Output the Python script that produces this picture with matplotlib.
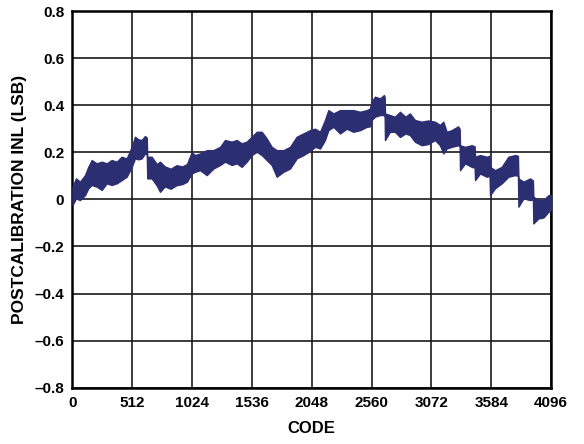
import matplotlib
matplotlib.use("Agg")
import matplotlib.pyplot as plt

plt.rcParams['font.family'] = ['Liberation Sans', 'DejaVu Sans']
plt.rcParams['font.weight'] = 'bold'

# INL envelope (code, upper, lower)
codes = [0, 30, 64, 107, 135, 164, 207, 250, 293, 335, 378, 421, 464, 507,
         535, 563, 592, 620, 636, 640, 678, 720, 749, 790, 840, 890, 940, 980,
         1020, 1049, 1091, 1149, 1206, 1263, 1305, 1363, 1406, 1448, 1491,
         1534, 1577, 1620, 1662, 1705, 1748, 1805, 1862, 1919, 1976, 2033,
         2076, 2119, 2161, 2190, 2233, 2290, 2347, 2404, 2461, 2518, 2545,
         2560, 2589, 2632, 2666, 2672, 2675, 2717, 2760, 2803, 2850, 2888,
         2931, 2988, 3045, 3102, 3145, 3174, 3203, 3246, 3300, 3314, 3317,
         3360, 3417, 3442, 3446, 3488, 3546, 3570, 3574, 3617, 3674, 3731,
         3788, 3813, 3817, 3860, 3917, 3941, 3945, 3988, 4031, 4074, 4096]
inl_upper = [0.054, 0.089, 0.075, 0.103, 0.138, 0.167, 0.153, 0.160, 0.153,
             0.167, 0.160, 0.181, 0.174, 0.223, 0.266, 0.255, 0.252, 0.269,
             0.262, 0.181, 0.181, 0.150, 0.160, 0.140, 0.130, 0.145, 0.140,
             0.150, 0.200, 0.188, 0.195, 0.209, 0.209, 0.223, 0.252, 0.245,
             0.252, 0.238, 0.245, 0.266, 0.287, 0.287, 0.259, 0.223, 0.209,
             0.209, 0.223, 0.266, 0.280, 0.294, 0.300, 0.287, 0.337, 0.379,
             0.365, 0.379, 0.379, 0.379, 0.372, 0.379, 0.385, 0.415, 0.436,
             0.429, 0.443, 0.435, 0.365, 0.358, 0.351, 0.372, 0.351, 0.365,
             0.337, 0.330, 0.335, 0.330, 0.316, 0.330, 0.287, 0.294, 0.310,
             0.300, 0.230, 0.223, 0.230, 0.225, 0.181, 0.188, 0.181, 0.185,
             0.138, 0.124, 0.138, 0.181, 0.188, 0.185, 0.089, 0.075, 0.089,
             0.080, 0.011, -0.003, -0.003, 0.018, 0.018]
inl_lower = [-0.024, 0.004, -0.003, 0.018, 0.047, 0.061, 0.054, 0.040, 0.068,
             0.061, 0.068, 0.082, 0.096, 0.138, 0.174, 0.170, 0.174, 0.195,
             0.190, 0.089, 0.089, 0.060, 0.032, 0.055, 0.045, 0.060, 0.065,
             0.075, 0.110, 0.117, 0.124, 0.103, 0.131, 0.146, 0.160, 0.146,
             0.153, 0.138, 0.160, 0.188, 0.202, 0.188, 0.167, 0.146, 0.096,
             0.117, 0.131, 0.174, 0.188, 0.205, 0.223, 0.216, 0.252, 0.294,
             0.308, 0.280, 0.300, 0.287, 0.294, 0.308, 0.310, 0.337, 0.351,
             0.358, 0.358, 0.350, 0.252, 0.287, 0.287, 0.265, 0.280, 0.273,
             0.245, 0.230, 0.235, 0.252, 0.230, 0.195, 0.216, 0.223, 0.230,
             0.225, 0.124, 0.153, 0.138, 0.135, 0.082, 0.110, 0.096, 0.100,
             0.018, 0.047, 0.068, 0.096, 0.103, 0.100, -0.031, 0.004, -0.003,
             0.000, -0.102, -0.081, -0.077, -0.053, -0.045]

x_ticks = [0, 512, 1024, 1536, 2048, 2560, 3072, 3584, 4096]
y_ticks = [-0.8, -0.6, -0.4, -0.2, 0, 0.2, 0.4, 0.6, 0.8]
y_labels = ['–0.8', '–0.6', '–0.4', '–0.2', '0', '0.2', '0.4', '0.6', '0.8']

fig = plt.figure(figsize=(5.84, 4.44), dpi=100)
ax = fig.add_axes([0.1241, 0.1268, 0.8194, 0.8484])

line_color = '#2c2e72'
ax.fill_between(codes, inl_lower, inl_upper, color=line_color, linewidth=1.0,
                edgecolor=line_color, zorder=3)

ax.set_xlim(0, 4096)
ax.set_ylim(-0.8, 0.8)
ax.set_xticks(x_ticks)
ax.set_xticklabels([str(t) for t in x_ticks])
ax.set_yticks(y_ticks)
ax.set_yticklabels(y_labels)
ax.tick_params(length=0, labelsize=11, pad=6)
for lab in ax.get_xticklabels() + ax.get_yticklabels():
    lab.set_fontweight('bold')

ax.grid(True, color='#1a1a1a', linewidth=1.2, zorder=1)
ax.set_axisbelow(True)
for sp in ax.spines.values():
    sp.set_linewidth(1.8)
    sp.set_color('black')

ax.set_xlabel('CODE', fontsize=12, fontweight='bold', labelpad=8)
ax.set_ylabel('POSTCALIBRATION INL (LSB)', fontsize=12.5, fontweight='bold', labelpad=5)

fig.savefig('out.png', dpi=100)
